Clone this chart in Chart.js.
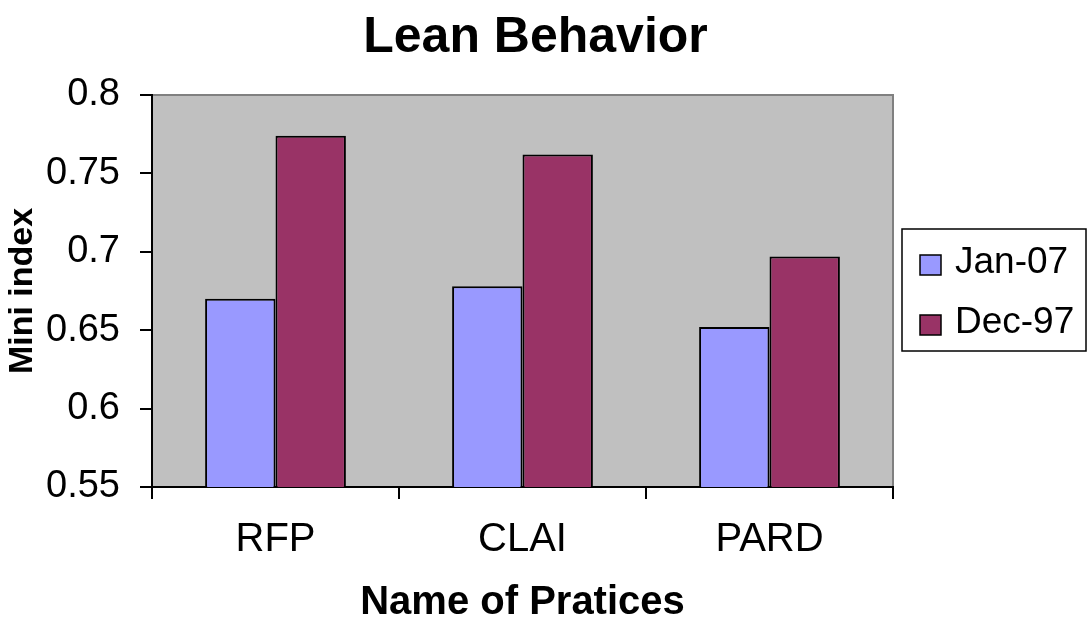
<!DOCTYPE html>
<html>
<head>
<meta charset="utf-8">
<title>Lean Behavior</title>
<script src="https://cdn.jsdelivr.net/npm/chart.js@4.4.0/dist/chart.umd.min.js"></script>
<style>
    html, body { margin: 0; padding: 0; background: #ffffff; }
    #wrap { width: 1089px; height: 618px; }
</style>
</head>
<body>
<div id="wrap"><canvas id="leanChart" width="1089" height="618"></canvas></div>
<script>
// values
const practices = ['RFP', 'CLAI', 'PARD'];
const seriesNames = ['Jan-07', 'Dec-97'];
const jan07 = [0.670, 0.678, 0.652];
const dec97 = [0.774, 0.762, 0.697];
const yTicks = [0.55, 0.6, 0.65, 0.7, 0.75, 0.8];

const FONT = "Arial, 'Liberation Sans', sans-serif";
const janColor = '#9999FF';
const decColor = '#993366';

// grey plot area, with the grey frame on top and right
const plotArea = {
    id: 'plotArea',
    beforeDraw(chart) {
        const {ctx, chartArea: a} = chart;
        ctx.save();
        ctx.fillStyle = '#C0C0C0';
        ctx.fillRect(a.left, a.top, a.right - a.left, a.bottom - a.top);
        ctx.strokeStyle = '#808080';
        ctx.lineWidth = 2;
        ctx.beginPath();
        ctx.moveTo(a.left, a.top);
        ctx.lineTo(a.right, a.top);
        ctx.lineTo(a.right, a.bottom);
        ctx.stroke();
        ctx.restore();
    }
};

// boxed legend on the right, like the spreadsheet one
const boxLegend = {
    id: 'boxLegend',
    afterDraw(chart) {
        const ctx = chart.ctx;
        ctx.save();
        ctx.strokeStyle = '#000';
        ctx.lineWidth = 1.5;
        ctx.strokeRect(902, 229, 184, 122);
        ctx.font = '37px ' + FONT;
        ctx.textBaseline = 'alphabetic';
        ctx.textAlign = 'left';
        chart.data.datasets.forEach((ds, i) => {
            const y = 255 + i * 60;
            ctx.fillStyle = ds.backgroundColor;
            ctx.fillRect(920, y, 21, 20);
            ctx.strokeStyle = '#000';
            ctx.lineWidth = 1.5;
            ctx.strokeRect(920, y, 21, 20);
            ctx.fillStyle = '#000';
            ctx.fillText(ds.label, 955, y + 18);
        });
        ctx.restore();
    }
};

const config = {
    type: 'bar',
    data: {
        labels: practices,
        datasets: [
            {
                label: seriesNames[0],
                data: jan07,
                backgroundColor: janColor,
                borderColor: '#000',
                borderWidth: 2,
                categoryPercentage: 0.57,
                barPercentage: 1
            },
            {
                label: seriesNames[1],
                data: dec97,
                backgroundColor: decColor,
                borderColor: '#000',
                borderWidth: 2,
                categoryPercentage: 0.57,
                barPercentage: 1
            }
        ]
    },
    options: {
        responsive: false,
        animation: false,
        layout: { padding: { left: 0, right: 18, top: 0, bottom: 0 } },
        plugins: {
            legend: { display: false },
            tooltip: { enabled: false },
            title: {
                display: true,
                text: 'Lean Behavior',
                color: '#000',
                font: { family: FONT, size: 50, weight: 'bold' },
                padding: { top: 8.5, bottom: 26.5 }
            }
        },
        scales: {
            x: {
                grid: { drawOnChartArea: false, drawTicks: true, tickLength: 12, color: '#000', lineWidth: 2 },
                border: { color: '#000', width: 2 },
                ticks: { color: '#000', font: { family: FONT, size: 40 }, padding: 17 },
                title: {
                    display: true,
                    text: 'Name of Pratices',
                    color: '#000',
                    font: { family: FONT, size: 40, weight: 'bold' },
                    padding: { top: 0, bottom: -9 }
                },
                afterFit(scale) { scale.height = 131; }
            },
            y: {
                min: 0.55,
                max: 0.8,
                grid: { drawOnChartArea: false, drawTicks: true, tickLength: 12, color: '#000', lineWidth: 2 },
                border: { color: '#000', width: 2 },
                ticks: {
                    color: '#000',
                    font: { family: FONT, size: 38 },
                    padding: 20,
                    callback: v => String(parseFloat(v.toFixed(2)))
                },
                afterBuildTicks(scale) {
                    scale.ticks = yTicks.map(v => ({ value: v }));
                },
                title: {
                    display: true,
                    text: 'Mini index',
                    color: '#000',
                    font: { family: FONT, size: 34, weight: 'bold' },
                    padding: { top: 2, bottom: 0 }
                },
                afterFit(scale) { scale.width = 152; }
            },
            // empty axis that only keeps room for the boxed legend
            legendRoom: {
                type: 'linear',
                position: 'right',
                grid: { display: false },
                border: { display: false },
                ticks: { display: false },
                afterFit(scale) { scale.width = 178; }
            }
        }
    },
    plugins: [plotArea, boxLegend]
};

new Chart(document.getElementById('leanChart'), config);
</script>
</body>
</html>
